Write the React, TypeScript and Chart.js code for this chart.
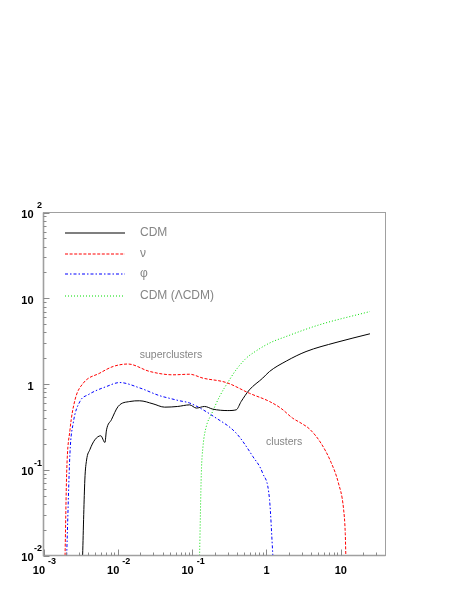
import React, { useEffect, useRef } from "react";
import { Chart, registerables } from "chart.js";

Chart.register(...registerables);

// ---- data ----
const cdmX = [0.00336, 0.0036, 0.0038, 0.0042, 0.0049, 0.0059, 0.0067, 0.00705, 0.0082, 0.0101, 0.0145, 0.0197, 0.0298, 0.0427, 0.064, 0.0925, 0.114, 0.147, 0.19, 0.302, 0.392, 0.457, 0.59, 0.89, 1.1, 1.85, 3.41, 8.63, 24.7];
const cdmY = [0.01, 0.076, 0.13, 0.171, 0.223, 0.249, 0.208, 0.292, 0.383, 0.547, 0.625, 0.637, 0.587, 0.537, 0.547, 0.571, 0.524, 0.547, 0.509, 0.49, 0.5, 0.625, 0.855, 1.17, 1.4, 1.85, 2.39, 3.05, 3.85];

const nuX = [0.00195, 0.00205, 0.00227, 0.00265, 0.00342, 0.00573, 0.00865, 0.0137, 0.0269, 0.0552, 0.0925, 0.14, 0.288, 0.59, 1.1, 1.57, 2.25, 3.0, 3.78, 5.4, 7.4, 9.3, 10.9, 11.5, 11.7];
const nuY = [0.01, 0.091, 0.29, 0.65, 1.02, 1.34, 1.6, 1.71, 1.4, 1.28, 1.3, 1.17, 1.04, 0.78, 0.625, 0.52, 0.4, 0.345, 0.3, 0.205, 0.122, 0.07, 0.035, 0.018, 0.01];

const phiX = [0.00205, 0.00227, 0.00251, 0.00309, 0.004, 0.00705, 0.0106, 0.0197, 0.0366, 0.05, 0.068, 0.0925, 0.211, 0.392, 0.655, 0.89, 1.1, 1.22];
const phiY = [0.01, 0.156, 0.35, 0.625, 0.75, 0.935, 1.04, 0.9, 0.73, 0.68, 0.637, 0.6, 0.4, 0.267, 0.143, 0.091, 0.045, 0.01];

const lcdmX = [0.126, 0.133, 0.14, 0.155, 0.181, 0.234, 0.318, 0.392, 0.534, 0.655, 1.1, 1.84, 5.14, 24.7];
const lcdmY = [0.01, 0.091, 0.187, 0.319, 0.44, 0.715, 1.12, 1.47, 2.0, 2.29, 3.0, 3.58, 4.9, 7.0];

const seriesNames = ["CDM", "\u03bd", "\u03c6", "CDM (\u039bCDM)"];
const seriesColors = ["#000000", "#ff0000", "#0000ff", "#00dd00"];
const seriesDashes: number[][] = [[], [3, 1.6], [3, 2, 1.5, 2], [1, 2]];

const xMin = 0.001;
const xMax = 40;
const yMin = 0.01;
const yMax = 100;

const xTickValues = [0.001, 0.01, 0.1, 1, 10];
const xTickBase = ["10", "10", "10", "1", "10"];
const xTickExp = ["-3", "-2", "-1", "", ""];

const yTickValues = [0.01, 0.1, 1, 10, 100];
const yTickBase = ["10", "10", "1", "10", "10"];
const yTickExp = ["-2", "-1", "", "", "2"];

const noteTexts = ["superclusters", "clusters"];
const noteX = [0.0197, 0.99];
const noteY = [2.19, 0.208];

const pts = (xs: number[], ys: number[]) => xs.map((x, i) => ({ x, y: ys[i] }));

const FONT = "'Liberation Sans', Arial, Helvetica, sans-serif";

const decorPlugin = {
  id: "decor",
  afterDraw(chart: any) {
    const { ctx, chartArea: a, scales } = chart;
    const xs = scales.x;
    const ys = scales.y;
    ctx.save();

    // frame
    ctx.setLineDash([]);
    ctx.strokeStyle = "#a0a0a0";
    ctx.lineWidth = 1;
    ctx.strokeRect(a.left, a.top, a.right - a.left, a.bottom - a.top);
    ctx.lineWidth = 1.6;
    ctx.beginPath();
    ctx.moveTo(a.left, a.top);
    ctx.lineTo(a.left, a.bottom);
    ctx.lineTo(a.right, a.bottom);
    ctx.stroke();

    // ticks
    ctx.lineWidth = 1;
    ctx.strokeStyle = "#8a8a8a";
    const major = 6;
    const minor = 3;
    for (let i = 0; i < yTickValues.length; i++) {
      const v = yTickValues[i];
      const py = Math.round(ys.getPixelForValue(v)) + 0.5;
      ctx.beginPath();
      ctx.moveTo(a.left, py);
      ctx.lineTo(a.left + major, py);
      ctx.stroke();
      if (i < yTickValues.length - 1) {
        for (let k = 2; k <= 9; k++) {
          const pv = Math.round(ys.getPixelForValue(v * k)) + 0.5;
          ctx.beginPath();
          ctx.moveTo(a.left, pv);
          ctx.lineTo(a.left + minor, pv);
          ctx.stroke();
        }
      }
    }
    for (let i = 0; i < xTickValues.length; i++) {
      const v = xTickValues[i];
      const px = Math.round(xs.getPixelForValue(v)) + 0.5;
      ctx.beginPath();
      ctx.moveTo(px, a.bottom);
      ctx.lineTo(px, a.bottom - major);
      ctx.stroke();
      for (let k = 2; k <= 9; k++) {
        if (v * k >= xMax) break;
        const pv = Math.round(xs.getPixelForValue(v * k)) + 0.5;
        ctx.beginPath();
        ctx.moveTo(pv, a.bottom);
        ctx.lineTo(pv, a.bottom - minor);
        ctx.stroke();
      }
    }

    // tick labels
    ctx.fillStyle = "#000";
    ctx.textBaseline = "middle";
    const baseFont = `bold 11px ${FONT}`;
    const expFont = `bold 9px ${FONT}`;
    for (let i = 0; i < yTickValues.length; i++) {
      const py = ys.getPixelForValue(yTickValues[i]);
      ctx.font = baseFont;
      ctx.textAlign = "right";
      ctx.fillText(yTickBase[i], 33.5, py + 2.5);
      if (yTickExp[i]) {
        ctx.font = expFont;
        ctx.textAlign = "left";
        ctx.fillText(yTickExp[i], yTickExp[i].startsWith("-") ? 34 : 37, py - 6.5);
      }
    }
    for (let i = 0; i < xTickValues.length; i++) {
      const px = xs.getPixelForValue(xTickValues[i]);
      const by = a.bottom + 15;
      ctx.font = baseFont;
      if (xTickExp[i]) {
        ctx.textAlign = "right";
        ctx.fillText(xTickBase[i], px + 1.5, by);
        ctx.font = expFont;
        ctx.textAlign = "left";
        ctx.fillText(xTickExp[i], px + 4.5, by - 8.5);
      } else {
        ctx.textAlign = "center";
        ctx.fillText(xTickBase[i], px, by);
      }
    }

    // legend
    const legendY = [233, 254, 274, 296];
    for (let i = 0; i < seriesNames.length; i++) {
      const y = legendY[i];
      ctx.strokeStyle = seriesColors[i];
      ctx.lineWidth = 1.2;
      ctx.setLineDash(seriesDashes[i]);
      ctx.beginPath();
      ctx.moveTo(65, y);
      ctx.lineTo(125, y);
      ctx.stroke();
      ctx.setLineDash([]);
      ctx.fillStyle = "#858585";
      ctx.font = `12px ${FONT}`;
      ctx.textAlign = "left";
      ctx.textBaseline = "middle";
      ctx.fillText(seriesNames[i], 140, y);
    }

    // annotations
    ctx.fillStyle = "#858585";
    ctx.font = `10.5px ${FONT}`;
    ctx.textAlign = "left";
    ctx.textBaseline = "middle";
    for (let i = 0; i < noteTexts.length; i++) {
      ctx.fillText(noteTexts[i], xs.getPixelForValue(noteX[i]), ys.getPixelForValue(noteY[i]));
    }

    ctx.restore();
  },
};

export default function App() {
  const ref = useRef<HTMLCanvasElement | null>(null);
  useEffect(() => {
    if (!ref.current) return;
    const common = { showLine: true, pointRadius: 0, borderWidth: 1, fill: false, cubicInterpolationMode: "monotone" as const };
    const series = [pts(cdmX, cdmY), pts(nuX, nuY), pts(phiX, phiY), pts(lcdmX, lcdmY)];
    const chart = new Chart(ref.current, {
      type: "scatter",
      data: {
        datasets: series.map((data, i) => ({
          ...common,
          label: seriesNames[i],
          data,
          borderColor: seriesColors[i],
          borderDash: seriesDashes[i],
        })),
      },
      options: {
        animation: false,
        responsive: false,
        devicePixelRatio: 1,
        layout: { padding: { left: 43.5, top: 212.5, right: 77.5, bottom: 43.5 } },
        plugins: { legend: { display: false }, tooltip: { enabled: false } },
        scales: {
          x: { type: "logarithmic", min: xMin, max: xMax, display: false },
          y: { type: "logarithmic", min: yMin, max: yMax, display: false },
        },
      },
      plugins: [decorPlugin],
    });
    return () => chart.destroy();
  }, []);
  return (
    <div style={{ position: "absolute", left: 0, top: 0, width: 463, height: 599, background: "#fff" }}>
      <canvas ref={ref} width={463} height={599} style={{ width: 463, height: 599 }} />
    </div>
  );
}
